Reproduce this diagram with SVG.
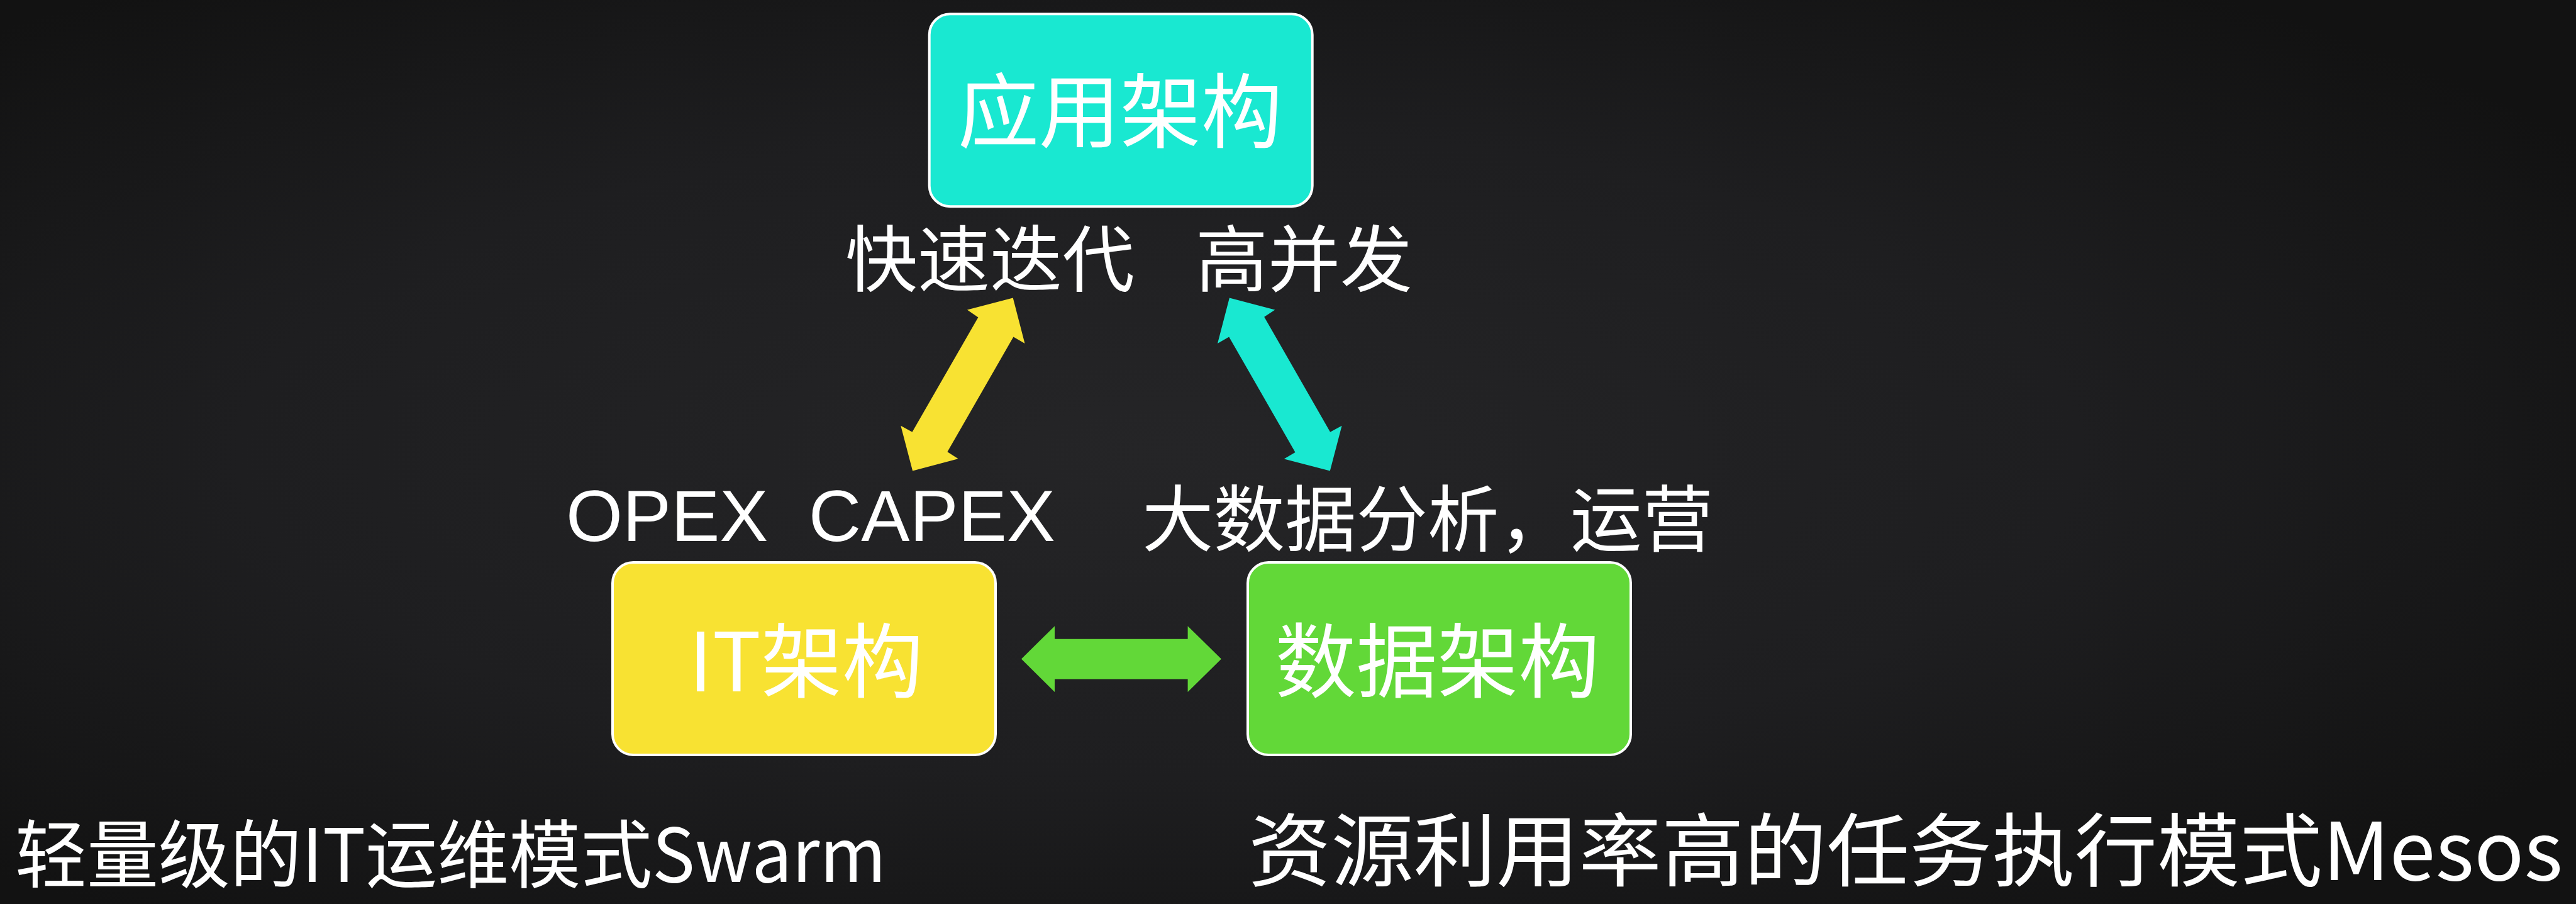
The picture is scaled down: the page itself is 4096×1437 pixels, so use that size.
<svg xmlns="http://www.w3.org/2000/svg" width="4096" height="1437" viewBox="0 0 4096 1437">
<defs>
<style>
.box{stroke:#ffffff;stroke-width:4}
.cjk{font-family:"Noto Sans CJK SC","Noto Sans CJK JP",sans-serif;fill:#ffffff}
.lat{font-family:"Liberation Sans",Arial,sans-serif;fill:#ffffff}
</style>
<radialGradient id="bg" cx="0.45" cy="0.5" r="0.65">
<stop offset="0" stop-color="#252527"/>
<stop offset="0.55" stop-color="#1e1e20"/>
<stop offset="1" stop-color="#121212"/>
</radialGradient>
</defs>
<rect x="0" y="0" width="4096" height="1437" fill="url(#bg)"/>

<g id="connectors">
<polygon id="arrow-it-app" fill="#F8E232" points="1610.7,473.6 1629.5,546 1611.4,535.6 1506.4,718.3 1523.6,729.3 1451.1,748.5 1432.3,676.7 1450.5,686.7 1555.4,504.4 1537.9,492.4"/>
<polygon id="arrow-app-data" fill="#19E8D1" points="1954.9,473.6 2027.3,492.4 2010.2,503.8 2115.1,686.7 2133.6,676.7 2114.8,748.5 2041.7,729.6 2059.5,718.9 1954.2,535.6 1936,546"/>
<polygon id="arrow-it-data" fill="#62D838" points="1624,1047.4 1677,995.2 1677,1015.7 1888.6,1015.7 1888.6,995.2 1941.9,1047.4 1888.6,1100.1 1888.6,1079.6 1677,1079.6 1677,1100.1"/>
<text class="cjk" font-size="115"><tspan x="1344" y="454">快速迭代</tspan><tspan x="1901" y="454">高并发</tspan></text>
<text class="lat" font-size="115.7" x="900" y="859.7" xml:space="preserve">OPEX  CAPEX</text>
<text class="cjk" font-size="115" x="1816" y="867" textLength="908" lengthAdjust="spacingAndGlyphs">大数据分析，运营</text>
</g>

<g id="node-app">
<rect class="box" x="1477.7" y="22.2" width="609" height="306" rx="33" fill="#19E8D1"/>
<text class="cjk" font-size="129" x="1781" y="225" text-anchor="middle">应用架构</text>
</g>

<g id="node-it">
<rect class="box" x="974" y="894" width="609" height="306" rx="33" fill="#F8E232"/>
<text class="cjk" font-size="129" x="1281.6" y="1099" text-anchor="middle">IT架构</text>
</g>

<g id="node-data">
<rect class="box" x="1984" y="894" width="609" height="306" rx="33" fill="#62D838"/>
<text class="cjk" font-size="129" x="2285.4" y="1099" text-anchor="middle">数据架构</text>
</g>

<g id="captions">
<text class="cjk" font-size="118" x="24" y="1402" textLength="1385" lengthAdjust="spacingAndGlyphs">轻量级的IT运维模式Swarm</text>
<text class="cjk" font-size="127" x="1985" y="1399" textLength="2090" lengthAdjust="spacingAndGlyphs">资源利用率高的任务执行模式Mesos</text>
</g>
</svg>
